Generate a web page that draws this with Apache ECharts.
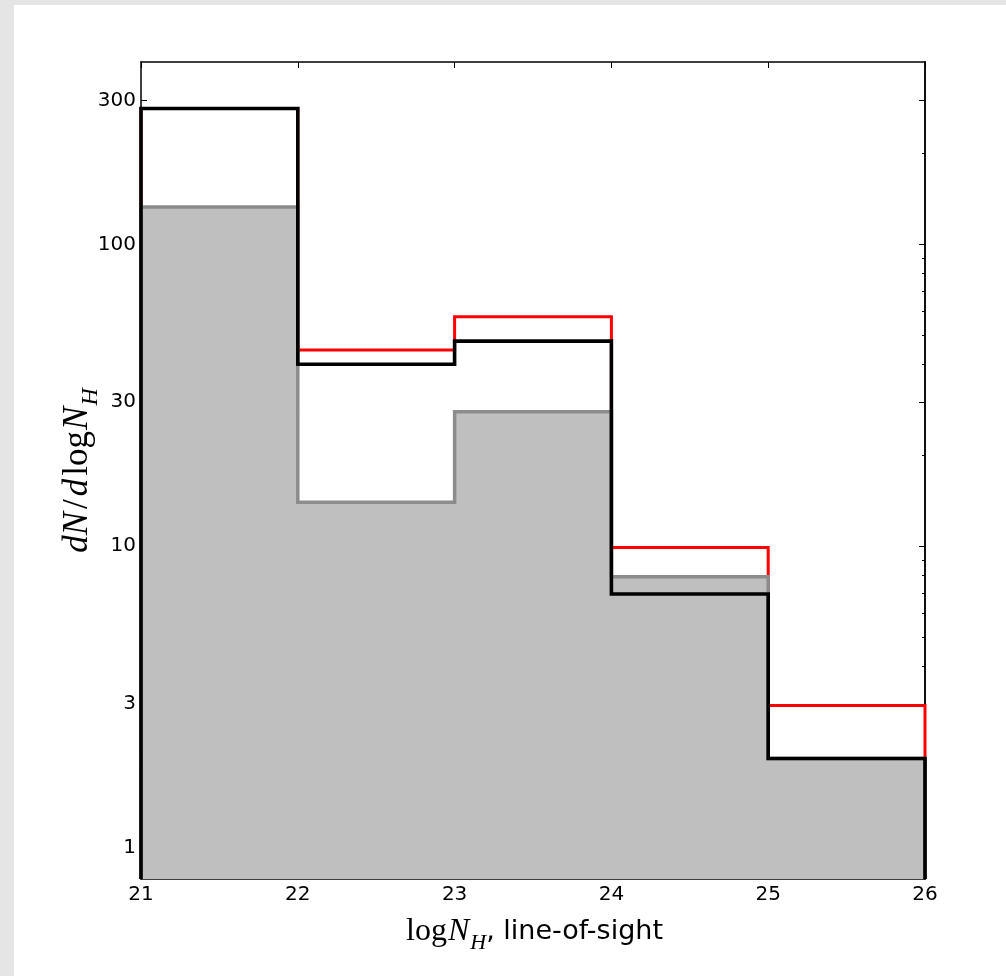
<!DOCTYPE html>
<html>
<head>
<meta charset="utf-8">
<script src="https://cdn.jsdelivr.net/npm/echarts@6/dist/echarts.min.js"></script>
<style>
    html, body { margin: 0; padding: 0; background: #e5e5e5; }
    #chart { position: absolute; left: 14px; top: 5px; width: 992px; height: 971px; background: #fff; }
</style>
</head>
<body>
<div id="chart"></div>
<script>
// histogram bin edges (log N_H) and dN/dlogN_H per bin
const binEdges = [21, 22, 23, 24, 25, 26];
const grayCounts = [133, 14.0, 27.9, 7.93, 1.98];
const redCounts = [282, 44.7, 57.6, 9.9, 2.97];
const blackCounts = [282, 40.1, 47.8, 6.95, 1.98];

const yMajorTicks = [1, 3, 10, 30, 100, 300];
const yMinorTicks = [2, 4, 5, 6, 7, 8, 9, 20, 40, 50, 60, 70, 80, 90, 200];
const yFloor = 0.79;
const yCeil = 402;

// outline of a step histogram, closed down to the axis floor at both ends
function stepData(counts) {
    let pts = [[binEdges[0], yFloor]];
    binEdges.forEach((x, i) => {
        pts.push([x, counts[Math.min(i, counts.length - 1)]]);
    });
    pts.push([binEdges[binEdges.length - 1], yFloor]);
    return pts;
}

// rich styles for the mathtext-like axis names (subscript pushed down by top padding)
function mathRich(size) {
    let sub = Math.round(size * 0.69);
    return {
        i: { fontFamily: 'Liberation Serif', fontStyle: 'italic', fontSize: size, lineHeight: 30, color: '#000' },
        o: { fontFamily: 'Liberation Serif', fontSize: size, lineHeight: 30, color: '#000', padding: [0, 3, 0, 3] },
        r: { fontFamily: 'Liberation Serif', fontSize: size, lineHeight: 30, color: '#000', padding: [0, 1, 0, 3] },
        s: { fontFamily: 'Liberation Serif', fontStyle: 'italic', fontSize: sub, lineHeight: sub, color: '#000', padding: [Math.round(size * 0.7), 0, 0, 1] },
        t: { fontFamily: 'DejaVu Sans', fontSize: 27, lineHeight: 30, color: '#000' }
    };
}

const tickFont = { fontFamily: 'DejaVu Sans', fontSize: 20, color: '#000' };

function yAxisBase(extra) {
    return Object.assign({
        type: 'log',
        logBase: 10,
        min: yFloor,
        max: yCeil,
        splitLine: { show: false },
        axisLine: { show: true, lineStyle: { color: '#000', width: 1.5 } }
    }, extra);
}

let option = {
    animation: false,
    backgroundColor: '#fff',
    grid: { left: 127, top: 57, right: 81, bottom: 97, containLabel: false },
    xAxis: [
        {
            type: 'value',
            min: 21, max: 26, interval: 1,
            position: 'bottom',
            splitLine: { show: false },
            axisLine: { lineStyle: { color: '#000', width: 1.5 } },
            axisTick: { inside: true, length: 6, lineStyle: { color: '#000' } },
            axisLabel: Object.assign({ margin: 6 }, tickFont),
            name: '{r|log}{i|N}{s|H}{t|, line-of-sight}',
            nameLocation: 'middle',
            nameGap: 16,
            nameTextStyle: { rich: mathRich(32) }
        },
        {
            type: 'value',
            min: 21, max: 26, interval: 1,
            position: 'top',
            splitLine: { show: false },
            axisLine: { lineStyle: { color: '#000', width: 1.5 } },
            axisTick: { inside: true, length: 6, lineStyle: { color: '#000' } },
            axisLabel: { show: false }
        }
    ],
    yAxis: [
        yAxisBase({
            position: 'left',
            axisTick: { inside: true, length: 6, customValues: yMajorTicks, lineStyle: { color: '#000' } },
            axisLabel: Object.assign({ margin: 5, customValues: yMajorTicks }, tickFont),
            name: '{i|dN}{o|/}{i|d}{r|log}{i|N}{s|H}',
            nameLocation: 'middle',
            nameRotate: 90,
            nameGap: 48,
            nameMoveOverlap: false,
            nameTextStyle: { rich: mathRich(35) }
        }),
        yAxisBase({
            position: 'right',
            axisTick: { inside: true, length: 6, customValues: yMajorTicks, lineStyle: { color: '#000' } },
            axisLabel: { show: false }
        }),
        yAxisBase({
            position: 'right',
            axisTick: { inside: true, length: 3, customValues: yMinorTicks, lineStyle: { color: '#000' } },
            axisLabel: { show: false }
        })
    ],
    series: [
        {
            name: 'red',
            type: 'line',
            step: 'end',
            symbol: 'none',
            data: stepData(redCounts),
            lineStyle: { color: '#ff0000', width: 3, join: 'miter' },
            z: 2
        },
        {
            name: 'gray',
            type: 'line',
            step: 'end',
            symbol: 'none',
            data: stepData(grayCounts),
            lineStyle: { color: '#8c8c8c', width: 3.5, join: 'miter' },
            areaStyle: { color: '#bfbfbf', opacity: 1, origin: 'start' },
            z: 3
        },
        {
            name: 'black',
            type: 'line',
            step: 'end',
            symbol: 'none',
            data: stepData(blackCounts),
            lineStyle: { color: '#000', width: 3.6, join: 'miter' },
            z: 4
        }
    ]
};

let chart = echarts.init(document.getElementById('chart'));
chart.setOption(option);
</script>
</body>
</html>
